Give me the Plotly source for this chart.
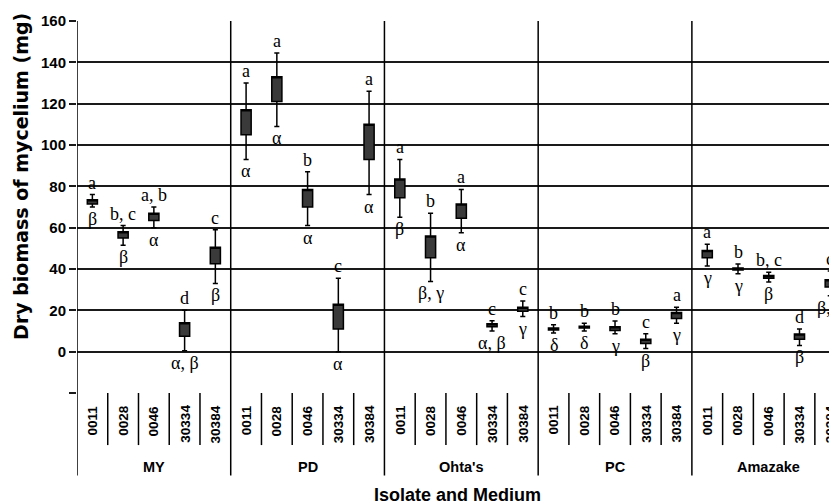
import plotly.graph_objects as go

isolates = ["0011", "0028", "0046", "30334", "30384"]
media = ["MY", "PD", "Ohta's", "PC", "Amazake"]

whisker_low = [70, 51.5, 60, 0.5, 33,
               93, 109, 61, 0, 76,
               65, 34, 57.5, 10, 17,
               9, 10, 8.7, 1.5, 13.7,
               41.5, 37.7, 33.7, 3, 27]
box_low = [71.5, 55, 63.5, 7.5, 42.5,
           105, 121, 70, 11, 93,
           74.5, 45.5, 64.5, 12, 19.5,
           10.5, 11.5, 10.2, 4, 16,
           45.5, 39.5, 35.5, 6, 31.3]
box_high = [73.5, 58, 67, 14, 50.5,
            117, 133, 78.5, 23, 110,
            83.5, 56, 71.5, 13.5, 21.5,
            11.5, 12.3, 12, 6, 19,
            49, 40.5, 36.8, 8.5, 34.8]
whisker_high = [76, 61, 70, 20, 59,
                130, 144.5, 87, 35.5, 126,
                93, 67, 78.5, 15, 24.5,
                13, 13.7, 14.8, 8.7, 21.5,
                52, 42.4, 38.4, 11, 39]
letters = ["a", "b, c", "a, b", "d", "c",
           "a", "a", "b", "c", "a",
           "a", "b", "a", "c", "c",
           "b", "b", "b", "c", "a",
           "a", "b", "b, c", "d", "c"]
greeks = ["β", "β", "α", "α, β", "β",
          "α", "α", "α", "α", "α",
          "β", "β, γ", "α", "α, β", "γ",
          "δ", "δ", "γ", "β", "γ",
          "γ", "γ", "β", "β", "β, γ"]

y_ticks = [-20, 0, 20, 40, 60, 80, 100, 120, 140, 160]
y_ticktext = [""] + [str(v) for v in y_ticks[1:]]

n = len(isolates) * len(media)
xpos = list(range(n))

fig = go.Figure()
fig.add_trace(go.Box(
    x=xpos, q1=box_low, median=box_high, q3=box_high,
    lowerfence=whisker_low, upperfence=whisker_high,
    width=0.33, fillcolor="#3a3a3a",
    line=dict(color="black", width=1.5),
    boxpoints=False, showlegend=False, hoverinfo="skip"))

ann = []
serif = dict(family="Liberation Serif, Times New Roman, serif", size=18, color="black")
for i in range(n):
    ann.append(dict(x=xpos[i], y=whisker_high[i], xref="x", yref="y", text=letters[i],
                    showarrow=False, yanchor="bottom", xanchor="center", yshift=0, font=serif))
    ann.append(dict(x=xpos[i], y=whisker_low[i], xref="x", yref="y", text=greeks[i],
                    showarrow=False, yanchor="top", xanchor="center", yshift=0, font=serif))

sans_b = dict(family="Liberation Sans, Arial, sans-serif", color="black", weight="bold")
for g, m in enumerate(media):
    for k, iso in enumerate(isolates):
        ann.append(dict(x=g * 5 + k, y=-0.027, xref="x", yref="paper", text=iso,
                        textangle=-90, showarrow=False, xanchor="center", yanchor="top",
                        font=dict(size=13.5, **sans_b)))
    ann.append(dict(x=g * 5 + 2, y=-0.199, xref="x", yref="paper", text=m,
                    showarrow=False, xanchor="center", yanchor="middle",
                    font=dict(size=14.5, **sans_b)))

ann.append(dict(x=0.5, y=-0.273, xref="paper", yref="paper", text="Isolate and Medium",
                showarrow=False, xanchor="center", yanchor="middle",
                font=dict(size=18, **sans_b)))
ann.append(dict(x=-0.074, y=0.583, xref="paper", yref="paper",
                text="Dry biomass of mycelium (mg)", textangle=-90,
                showarrow=False, xanchor="center", yanchor="middle",
                font=dict(family="DejaVu Sans, sans-serif", size=19, color="black", weight="bold")))

shapes = []
for k in range(n - 1):
    xb = k + 0.5
    if (k + 1) % 5 == 0:
        continue
    shapes.append(dict(type="line", xref="x", yref="paper", x0=xb, x1=xb, y0=0, y1=-0.14,
                       line=dict(color="black", width=1.5)))
for g in range(len(media)):
    xb = g * 5 - 0.5
    shapes.append(dict(type="line", xref="x", yref="paper", x0=xb, x1=xb, y0=-0.222, y1=1,
                       line=dict(color="black", width=1.5)))

fig.update_layout(
    width=829, height=496,
    margin=dict(l=69, r=0, t=13, b=111),
    paper_bgcolor="white", plot_bgcolor="white",
    annotations=ann, shapes=shapes,
    xaxis=dict(range=[-0.5, 24.22], showticklabels=False, showgrid=False,
               zeroline=False, showline=False, ticks=""),
    yaxis=dict(range=[-20, 160], tickvals=y_ticks, ticktext=y_ticktext,
               showgrid=True, gridcolor="#1a1a1a", gridwidth=1.5,
               zeroline=False, showline=False, ticks="outside", ticklen=7,
               tickcolor="#1a1a1a", tickwidth=1.5,
               tickfont=dict(size=15, **sans_b)),
)

fig.write_html("out.html")
